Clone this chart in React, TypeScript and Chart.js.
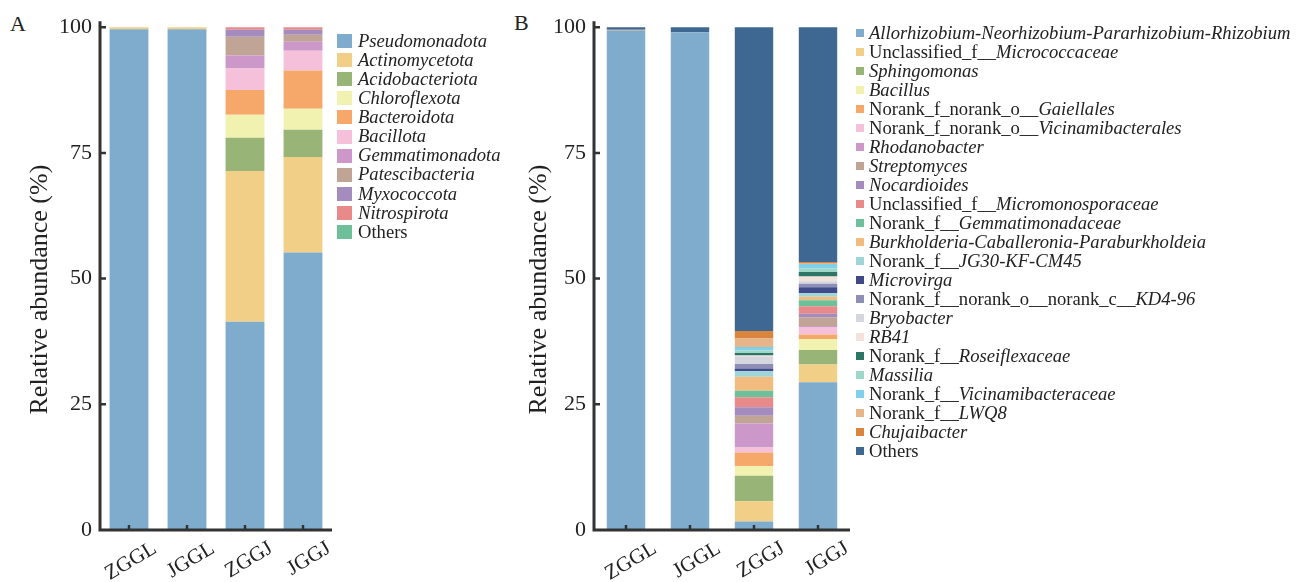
import React, { useEffect, useRef } from "react";
import { Chart, registerables } from "chart.js";

Chart.register(...registerables);

// ---------- shared ----------
const samples = ["ZGGL", "JGGL", "ZGGJ", "JGGJ"];
const yTickValues = [0, 25, 50, 75, 100];
const yTitle = "Relative abundance (%)";

// ---------- panel A: phylum level ----------
const phylumNames = [
  "Pseudomonadota",
  "Actinomycetota",
  "Acidobacteriota",
  "Chloroflexota",
  "Bacteroidota",
  "Bacillota",
  "Gemmatimonadota",
  "Patescibacteria",
  "Myxococcota",
  "Nitrospirota",
  "Others",
];
const phylumItalic = [true, true, true, true, true, true, true, true, true, true, false];
const phylumColors = [
  "#7FACCD", "#F2CF86", "#98B477", "#F2F2B0", "#F5A86A", "#F5C1DA",
  "#CC98C9", "#C0A597", "#A48DBE", "#E88A8A", "#6EC09A",
];
const phylumZGGL = [99.6, 0.4, 0, 0, 0, 0, 0, 0, 0, 0, 0];
const phylumJGGL = [99.6, 0.4, 0, 0, 0, 0, 0, 0, 0, 0, 0];
const phylumZGGJ = [41.4, 30.0, 6.6, 4.6, 4.9, 4.3, 2.6, 3.7, 1.4, 0.5, 0];
const phylumJGGJ = [55.2, 19.0, 5.4, 4.2, 7.6, 3.9, 1.8, 1.4, 1.0, 0.5, 0];

// ---------- panel B: genus level ----------
const genusPrefix = [
  "", "Unclassified_f__", "", "", "Norank_f_norank_o__", "Norank_f_norank_o__",
  "", "", "", "Unclassified_f__", "Norank_f__", "", "Norank_f__", "",
  "Norank_f__norank_o__norank_c__", "", "", "Norank_f__", "", "Norank_f__",
  "Norank_f__", "", "Others",
];
const genusItalicPart = [
  "Allorhizobium-Neorhizobium-Pararhizobium-Rhizobium",
  "Micrococcaceae",
  "Sphingomonas",
  "Bacillus",
  "Gaiellales",
  "Vicinamibacterales",
  "Rhodanobacter",
  "Streptomyces",
  "Nocardioides",
  "Micromonosporaceae",
  "Gemmatimonadaceae",
  "Burkholderia-Caballeronia-Paraburkholdeia",
  "JG30-KF-CM45",
  "Microvirga",
  "KD4-96",
  "Bryobacter",
  "RB41",
  "Roseiflexaceae",
  "Massilia",
  "Vicinamibacteraceae",
  "LWQ8",
  "Chujaibacter",
  "",
];
const genusColors = [
  "#7FACCD", "#F2CF86", "#98B477", "#F2F2B0", "#F5A86A", "#F5C1DA",
  "#CC98C9", "#C0A597", "#A48DBE", "#E88A8A", "#6EC09A", "#F2BC80",
  "#9ED5D9", "#3F4A88", "#8E8EB8", "#D6D6DF", "#F2E2DA", "#2F7565",
  "#9ED6C8", "#7FD0EA", "#E8B58A", "#D9853D", "#3E6891",
];
const genusZGGL = [99.3, 0, 0, 0, 0, 0, 0, 0.2, 0, 0, 0, 0, 0, 0, 0, 0, 0, 0, 0, 0, 0, 0, 0.5];
const genusJGGL = [99.0, 0, 0, 0, 0, 0, 0, 0, 0, 0, 0, 0, 0, 0, 0, 0, 0, 0, 0, 0, 0, 0, 1.0];
const genusZGGJ = [1.7, 4.0, 5.1, 1.9, 2.7, 1.0, 4.8, 1.5, 1.7, 2.0, 1.3, 2.8, 1.1, 0.5, 0.9, 1.5, 0.2, 0.5, 0.5, 0.7, 1.7, 1.5, 60.4];
const genusJGGJ = [29.4, 3.5, 2.9, 2.2, 0.9, 1.5, 0.2, 1.7, 0.7, 1.5, 1.2, 0.7, 0.7, 1.2, 0.7, 0.5, 0.9, 0.9, 0.7, 0.9, 0.2, 0.2, 46.7];

const SERIF = "'Liberation Serif', 'Times New Roman', serif";
const AXIS_COLOR = "#333333";
const TEXT_COLOR = "#222222";

const axisPlugin = {
  id: "innerAxes",
  afterDraw(chart: any, _args: any, opts: any) {
    const { ctx, chartArea } = chart;
    const xs = chart.scales.x;
    const ys = chart.scales.y;
    ctx.save();
    ctx.strokeStyle = AXIS_COLOR;
    ctx.lineCap = "butt";
    ctx.lineWidth = 3;
    ctx.beginPath();
    ctx.moveTo(chartArea.left, chartArea.top);
    ctx.lineTo(chartArea.left, chartArea.bottom);
    ctx.lineTo(chartArea.right, chartArea.bottom);
    ctx.stroke();
    ctx.lineWidth = 2.5;
    ctx.beginPath();
    ys.ticks.forEach((t: any) => {
      if (t.value === 0) return;
      const py = ys.getPixelForValue(t.value);
      ctx.moveTo(chartArea.left, py);
      ctx.lineTo(chartArea.left + 6, py);
    });
    xs.ticks.forEach((_t: any, i: number) => {
      const px = xs.getPixelForTick(i);
      ctx.moveTo(px, chartArea.bottom);
      ctx.lineTo(px, chartArea.bottom - 5);
    });
    ctx.stroke();
    // y-axis title
    const tx = ys.left + opts.titleX;
    const ty = (chartArea.top + chartArea.bottom) / 2 + opts.titleDy;
    ctx.translate(tx, ty);
    ctx.rotate(-Math.PI / 2);
    ctx.fillStyle = TEXT_COLOR;
    ctx.font = `26px ${SERIF}`;
    ctx.textAlign = "center";
    ctx.textBaseline = "middle";
    ctx.fillText(yTitle, 0, 0);
    ctx.restore();
  },
};

function buildConfig(
  names: string[],
  colors: string[],
  rows: number[][],
  barPct: number,
  titleX: number,
  labelOffset: number,
  rightPad: number
) {
  const datasets = names.map((name, k) => ({
    label: name,
    data: rows.map((r) => r[k]),
    backgroundColor: colors[k],
    borderWidth: 0,
    barPercentage: barPct,
    categoryPercentage: 1,
  }));
  return {
    type: "bar" as const,
    data: { labels: samples, datasets },
    plugins: [axisPlugin],
    options: {
      responsive: false,
      animation: false,
      devicePixelRatio: 1,
      layout: { padding: { top: 16, right: rightPad, left: 0, bottom: 0 } },
      plugins: {
        legend: { display: false },
        tooltip: { enabled: false },
        innerAxes: { titleX: titleX, titleDy: 14 },
      },
      scales: {
        x: {
          stacked: true,
          grid: { display: false, drawTicks: false },
          border: { display: false },
          afterFit: (s: any) => {
            s.height = 52;
          },
          ticks: {
            autoSkip: false,
            minRotation: 31,
            maxRotation: 31,
            labelOffset: labelOffset,
            padding: 6,
            color: TEXT_COLOR,
            font: { family: SERIF, size: 21 },
          },
        },
        y: {
          stacked: true,
          min: 0,
          max: 101.2,
          grid: { display: false, drawTicks: false },
          border: { display: false },
          afterBuildTicks: (s: any) => {
            s.ticks = yTickValues.map((v) => ({ value: v }));
          },
          afterFit: (s: any) => {
            s.width = 100;
          },
          ticks: {
            padding: 8,
            color: TEXT_COLOR,
            font: { family: SERIF, size: 22 },
          },
        },
      },
    },
  };
}

function BarPanel(props: {
  left: number;
  width: number;
  rightPad: number;
  names: string[];
  colors: string[];
  rows: number[][];
  barPct: number;
  titleX: number;
  labelOffset: number;
}) {
  const ref = useRef<HTMLCanvasElement | null>(null);
  useEffect(() => {
    if (!ref.current) return;
    const cfg: any = buildConfig(
      props.names,
      props.colors,
      props.rows,
      props.barPct,
      props.titleX,
      props.labelOffset,
      props.rightPad
    );
    const chart = new Chart(ref.current, cfg);
    return () => chart.destroy();
  }, []);
  return (
    <canvas
      ref={ref}
      width={props.width}
      height={582}
      style={{ position: "absolute", left: props.left, top: 0, width: props.width, height: 582 }}
    />
  );
}

function Legend(props: {
  left: number;
  top: number;
  rowH: number;
  sw: number;
  sh: number;
  gap: number;
  colors: string[];
  prefix: string[];
  italic: string[];
}) {
  return (
    <div style={{ position: "absolute", left: props.left, top: props.top }}>
      {props.colors.map((c, i) => (
        <div
          key={i}
          style={{
            display: "flex",
            alignItems: "center",
            height: props.rowH,
            whiteSpace: "nowrap",
            fontFamily: SERIF,
            fontSize: 18.6,
            color: TEXT_COLOR,
            lineHeight: 1,
          }}
        >
          <span
            style={{
              display: "inline-block",
              width: props.sw,
              height: props.sh,
              background: c,
              marginRight: props.gap,
              flex: "none",
            }}
          />
          <span>
            {props.prefix[i]}
            <i>{props.italic[i]}</i>
          </span>
        </div>
      ))}
    </div>
  );
}

export default function App() {
  const phylumRows = [phylumZGGL, phylumJGGL, phylumZGGJ, phylumJGGJ];
  const genusRows = [genusZGGL, genusJGGL, genusZGGJ, genusJGGJ];
  const genusNames = genusPrefix.map((p, i) => p + genusItalicPart[i]);
  return (
    <div
      style={{
        position: "absolute",
        left: 0,
        top: 0,
        width: 1307,
        height: 582,
        overflow: "hidden",
        background: "#ffffff",
      }}
    >
      <div style={{ position: "absolute", left: 10, top: 13, fontFamily: SERIF, fontSize: 22, color: TEXT_COLOR, lineHeight: 1 }}>A</div>
      <div style={{ position: "absolute", left: 514, top: 12, fontFamily: SERIF, fontSize: 22, color: TEXT_COLOR, lineHeight: 1 }}>B</div>
      <BarPanel
        left={0}
        width={345}
        rightPad={13}
        names={phylumNames}
        colors={phylumColors}
        rows={phylumRows}
        barPct={0.67}
        titleX={40}
        labelOffset={26}
      />
      <Legend
        left={337}
        top={31.5}
        rowH={19.1}
        sw={15}
        sh={14}
        gap={6}
        colors={phylumColors}
        prefix={phylumNames.map((n, i) => (phylumItalic[i] ? "" : n))}
        italic={phylumNames.map((n, i) => (phylumItalic[i] ? n : ""))}
      />
      <BarPanel
        left={494}
        width={365}
        rightPad={9}
        names={genusNames}
        colors={genusColors}
        rows={genusRows}
        barPct={0.6}
        titleX={45}
        labelOffset={29}
      />
      <Legend
        left={856}
        top={23.5}
        rowH={19}
        sw={8}
        sh={8}
        gap={5}
        colors={genusColors}
        prefix={genusPrefix}
        italic={genusItalicPart}
      />
    </div>
  );
}
